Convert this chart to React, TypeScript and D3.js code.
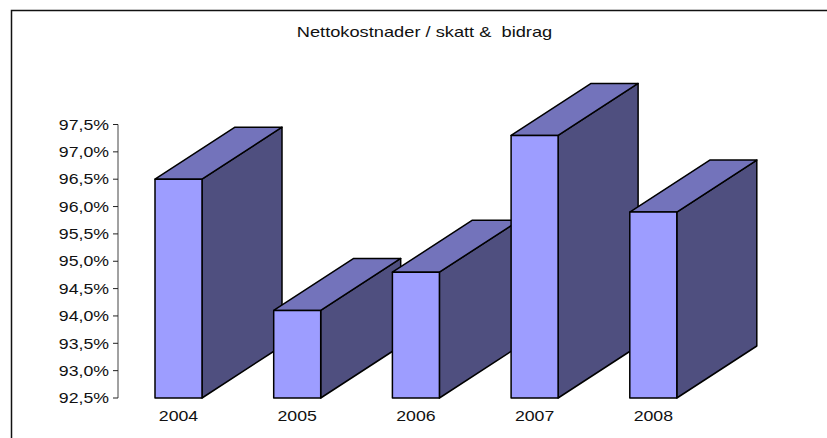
import React from "react";
import * as d3 from "d3";

const years = ["2004", "2005", "2006", "2007", "2008"];
const values = [96.5, 94.1, 94.8, 97.3, 95.9];
const tickValues = [92.5, 93, 93.5, 94, 94.5, 95, 95.5, 96, 96.5, 97, 97.5];
const titleText = "Nettokostnader / skatt &  bidrag";

const W = 827;
const H = 438;
const DX = 80;
const DY = -52;
const BAR_W = 47;
const STEP = 118.7;
const X0 = 155;
const FONT = "'Liberation Sans', Arial, sans-serif";
const STRETCH = 1.18;

export default function App() {
  const y = d3.scaleLinear().domain([92.5, 97.5]).range([398, 124.5]);
  const x = d3
    .scalePoint<string>()
    .domain(years)
    .range([X0, X0 + STEP * (years.length - 1)]);
  const fmt = (v: number) => v.toFixed(1).replace(".", ",") + "%";
  const line = d3.line();

  return (
    <svg
      width={W}
      height={H}
      viewBox={`0 0 ${W} ${H}`}
      style={{ position: "absolute", left: 0, top: 0, background: "#fff" }}
    >
      <path d={`M11.5,${H} V10.5 H${W}`} fill="none" stroke="#111" strokeWidth={1.5} />
      <text
        transform={`translate(424.5,37) scale(1.25,1)`}
        textAnchor="middle"
        fontFamily={FONT}
        fontSize={14.6}
        fill="#111"
        style={{ whiteSpace: "pre" }}
      >
        {titleText}
      </text>

      <line x1={118} x2={118} y1={y(97.5)} y2={y(92.5)} stroke="#444" strokeWidth={1} />
      {tickValues.map((t) => (
        <g key={t}>
          <line x1={113} x2={118} y1={y(t)} y2={y(t)} stroke="#222" strokeWidth={1} />
          <text
            transform={`translate(109,${y(t) + 5.2}) scale(${STRETCH},1)`}
            textAnchor="end"
            fontFamily={FONT}
            fontSize={15}
            fill="#111"
          >
            {fmt(t)}
          </text>
        </g>
      ))}

      {years.map((yr, i) => {
        const xl = x(yr)!;
        const xr = xl + BAR_W;
        const top = y(values[i]);
        const base = y(92.5);
        const poly = (pts: [number, number][]) => line(pts)! + "Z";
        return (
          <g key={yr} stroke="#000" strokeWidth={1.5} strokeLinejoin="round">
            <path
              d={poly([[xr, top], [xr + DX, top + DY], [xr + DX, base + DY], [xr, base]])}
              fill="#4f4f7f"
            />
            <path
              d={poly([[xl, top], [xr, top], [xr + DX, top + DY], [xl + DX, top + DY]])}
              fill="#7373bb"
            />
            <rect x={xl} y={top} width={BAR_W} height={base - top} fill="#9d9dff" />
            <text
              transform={`translate(${xl + BAR_W / 2},421) scale(${STRETCH},1)`}
              textAnchor="middle"
              fontFamily={FONT}
              fontSize={15}
              fill="#111"
              stroke="none"
            >
              {yr}
            </text>
          </g>
        );
      })}
    </svg>
  );
}
